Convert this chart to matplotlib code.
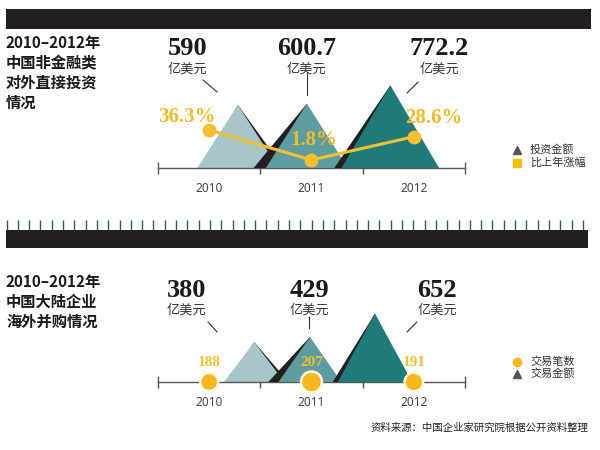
import matplotlib.pyplot as plt
from matplotlib.patches import Polygon, Rectangle
import numpy as np

plt.rcParams['font.family'] = ['Noto Sans CJK SC', 'DejaVu Sans']

years = ['2010', '2011', '2012']
invest = [590, 600.7, 772.2]          # 亿美元
invest_growth = [36.3, 1.8, 28.6]     # 比上年涨幅 %
ma_amount = [380, 429, 652]           # 亿美元
ma_count = [188, 207, 191]            # 交易笔数

tri_colors = ['#a8c5ca', '#5e9c9f', '#1f7a7a']
shade = '#231f20'
yellow = '#f2c030'

W, H = 600, 450
fig = plt.figure(figsize=(6, 4.5), dpi=100)
bg = fig.add_axes([0, 0, 1, 1], zorder=0)
bg.set_xlim(0, W)
bg.set_ylim(H, 0)
bg.axis('off')


def px_axes(left, top, width, height):
    return fig.add_axes([left / W, 1 - (top + height) / H, width / W, height / H], zorder=2)


def panel(ax, values, apex_dx, shade_dx, hw_a, hw_b, ytop, lab_dx, num_y, unit_y, leaders):
    ax.set_xlim(-0.5, 2.5)
    ax.set_ylim(0, ytop)
    ax.patch.set_visible(False)
    for s in ['top', 'right', 'left']:
        ax.spines[s].set_visible(False)
    ax.spines['bottom'].set_color('#555555')
    ax.spines['bottom'].set_linewidth(1)
    ax.set_yticks([])
    ax.set_xticks([0.5, 1.5])
    ax.set_xticklabels([])
    ax.tick_params(axis='x', which='major', length=4, width=1, color='#555555', direction='out')
    ax.set_xticks([0, 1, 2], minor=True)
    ax.set_xticklabels(years, minor=True)
    ax.tick_params(axis='x', which='minor', length=0, pad=10, labelsize=8.5, labelcolor='#444444')
    for lab in ax.get_xticklabels(minor=True):
        lab.set_family(['Noto Sans', 'DejaVu Sans'])
    ax.plot([-0.5, 2.5], [0, 0], ls='none', marker='|', ms=9, mew=1, color='#555555', clip_on=False)

    for i, v in enumerate(values):
        cx = i + apex_dx[i]
        hw = hw_a + hw_b * v
        ax.add_patch(Polygon([(cx - hw + shade_dx[i], 0), (cx, v), (cx + hw + shade_dx[i], 0)],
                             closed=True, color=shade, lw=0, zorder=1 + 2 * i))
        ax.add_patch(Polygon([(cx - hw, 0), (cx, v), (cx + hw, 0)],
                             closed=True, color=tri_colors[i], lw=0, zorder=2 + 2 * i))

    tr = ax.get_xaxis_transform()
    for i, v in enumerate(values):
        ax.text(i + lab_dx[i], num_y, f'{v:g}', transform=tr, ha='center', va='center',
                fontsize=19, fontweight='bold', family='Liberation Serif', color='#1a1a1a')
        ax.text(i + lab_dx[i], unit_y, '亿美元', transform=tr, ha='center', va='center',
                fontsize=9.5, color='#333333')
        (x0, y0), (x1, y1) = leaders[i]
        ax.plot([x0, x1], [y0, y1], transform=tr, color='#333333', lw=0.8, clip_on=False)


# header bar and ruler divider
bg.add_patch(Rectangle((6, 9), 585, 20, color=shade, lw=0))
bg.add_patch(Rectangle((6, 230), 582, 18, color=shade, lw=0))
bg.vlines(np.arange(6.5, 590, 11.3), 220, 230, color='#2f5c5a', lw=1)

# titles
for i, s in enumerate(['2010–2012年', '中国非金融类', '对外直接投资', '情况']):
    bg.text(6, 43 + 20 * i, s, fontsize=11, fontweight='bold', va='center', color='#1a1a1a')
for i, s in enumerate(['2010–2012年', '中国大陆企业', '海外并购情况']):
    bg.text(6, 282 + 20 * i, s, fontsize=11, fontweight='bold', va='center', color='#1a1a1a')

# legends
bg.plot(517, 150, marker='^', ms=6, color='#555555')
bg.text(530, 150, '投资金额', fontsize=8, va='center', color='#333333')
bg.plot(517, 163, marker='s', ms=6, color='#f5c000')
bg.text(530, 163, '比上年涨幅', fontsize=8, va='center', color='#333333')
bg.plot(517, 362, marker='o', ms=6, color='#f5b820')
bg.text(530, 362, '交易笔数', fontsize=8, va='center', color='#333333')
bg.plot(517, 374, marker='^', ms=6, color='#555555')
bg.text(530, 374, '交易金额', fontsize=8, va='center', color='#333333')

bg.text(588, 428, '资料来源：中国企业家研究院根据公开资料整理', ha='right', va='center',
        fontsize=7.5, color='#222222')

# top panel: 对外直接投资
ax1 = px_axes(158, 38, 307, 130)
panel(ax1, invest, apex_dx=[0.28, -0.045, -0.23], shade_dx=[0.05, -0.12, -0.07],
      hw_a=0.137, hw_b=0.00044, ytop=1215, lab_dx=[-0.21, -0.05, 0.25],
      num_y=0.923, unit_y=0.762,
      leaders=[((-0.06, 0.677), (0.077, 0.585)), ((0.956, 0.738), (0.956, 0.56)),
               ((2.04, 0.66), (1.934, 0.577))])

ax1b = ax1.twinx()
ax1b.set_ylim(-7.4, 142)
ax1b.axis('off')
ax1b.plot(range(3), invest_growth, color=yellow, lw=2.2, marker='o', ms=9, zorder=5)
for i, (g, off) in enumerate(zip(invest_growth, [(-22, 13), (2, 20), (20, 19)])):
    ax1b.annotate(f'{g}%', (i, g), xytext=off, textcoords='offset pixels', ha='center',
                  va='center', fontsize=15, fontweight='bold', family='Liberation Serif',
                  color='#f0bc2c', zorder=6)

# bottom panel: 海外并购
ax2 = px_axes(158, 272, 307, 110)
panel(ax2, ma_amount, apex_dx=[0.44, -0.015, -0.38], shade_dx=[0.04, -0.1, -0.05],
      hw_a=0.2, hw_b=0.00025, ytop=1048, lab_dx=[-0.22, -0.02, 0.23],
      num_y=0.836, unit_y=0.655,
      leaders=[((-0.011, 0.545), (0.077, 0.455)), ((0.976, 0.59), (0.976, 0.49)),
               ((2.03, 0.545), (1.934, 0.455))])
ax2.scatter(range(3), [0, 0, 0], s=[(c / 188) ** 3 * 170 for c in ma_count], color='#f5b820',
            edgecolor='#fff6dc', lw=1.8, zorder=10, clip_on=False)
for i, c in enumerate(ma_count):
    ax2.annotate(str(c), (i, 0), xytext=(0, 19), textcoords='offset pixels', ha='center',
                 va='center', fontsize=11, fontweight='bold', family='Liberation Serif',
                 color='#f0c030', zorder=11)

fig.savefig('out.png', dpi=100)
